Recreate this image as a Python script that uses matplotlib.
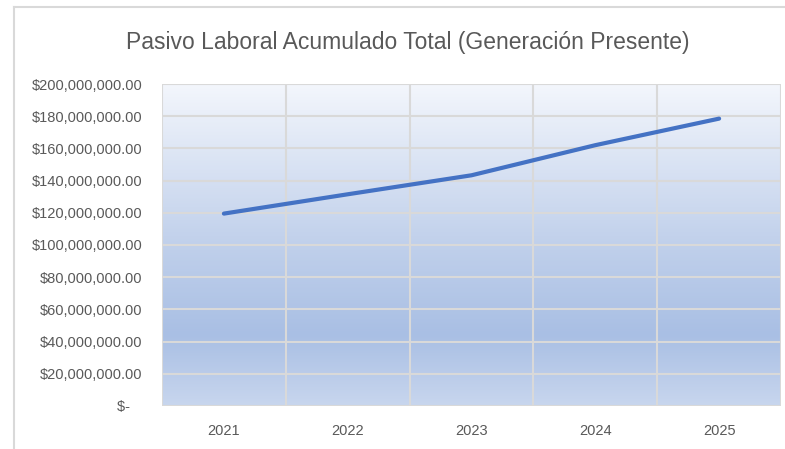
import matplotlib
matplotlib.use("Agg")
import matplotlib.pyplot as plt
import numpy as np
from matplotlib.colors import LinearSegmentedColormap
from matplotlib.ticker import FuncFormatter, MultipleLocator
import matplotlib.lines as mlines

plt.rcParams['font.family'] = ['Liberation Sans', 'DejaVu Sans']

years = ["2021", "2022", "2023", "2024", "2025"]
pasivo = [119.5e6, 131.5e6, 143.3e6, 162.0e6, 178.5e6]

title = "Pasivo Laboral Acumulado Total (Generación Presente)"

fig = plt.figure(figsize=(7.85, 4.49), dpi=100)
fig.patch.set_facecolor("white")

# thin chart frame along the top and left edges
fig.add_artist(mlines.Line2D([13.5 / 785, 1.0], [1 - 6.5 / 449, 1 - 6.5 / 449],
                             color="#d9d9d9", lw=1.5, transform=fig.transFigure))
fig.add_artist(mlines.Line2D([13.5 / 785, 13.5 / 785], [0.0, 1 - 6.5 / 449],
                             color="#d9d9d9", lw=1.5, transform=fig.transFigure))

ax = fig.add_axes([162 / 785, 1 - 406 / 449, (781 - 162) / 785, (406 - 84) / 449])

x = np.arange(1, len(years) + 1)
ax.set_xlim(0.5, len(years) + 0.5)
ax.set_ylim(0, 200e6)

# vertical gradient fill of the plot area
grad_cmap = LinearSegmentedColormap.from_list(
    "plotfill",
    [(0.0, "#c8d6ee"), (0.22, "#a9bfe4"), (0.5, "#c0d0eb"), (1.0, "#f3f6fc")])
grad = np.linspace(0, 1, 256).reshape(-1, 1)
ax.imshow(grad, cmap=grad_cmap, aspect="auto", origin="lower",
          extent=[0.5, len(years) + 0.5, 0, 200e6], zorder=0)

# grid: horizontal at each tick, vertical at category boundaries
for yv in np.arange(0, 200e6 + 1, 20e6):
    ax.axhline(yv, color="#d9d9d9", lw=1.5, zorder=1)
for xv in np.arange(0.5, len(years) + 1.0, 1.0):
    ax.axvline(xv, color="#d9d9d9", lw=1.5, zorder=1)

ax.plot(x, pasivo, color="#4472C4", lw=3.0, solid_capstyle="round",
        solid_joinstyle="round", zorder=3)

for s in ax.spines.values():
    s.set_visible(False)

ax.yaxis.set_major_locator(MultipleLocator(20e6))


def money(v, pos):
    if v == 0:
        return "$-   "
    return "${:,.2f}".format(v)


ax.yaxis.set_major_formatter(FuncFormatter(money))
ax.set_xticks(x)
ax.set_xticklabels(years)
ax.tick_params(axis="both", length=0, labelsize=10.5, colors="#595959")
ax.tick_params(axis="y", pad=14)
ax.tick_params(axis="x", pad=13)

fig.text(408 / 785, 1 - 43 / 449, title, ha="center", va="center",
         fontsize=16.5, color="#595959")

fig.savefig("out.png", dpi=100, facecolor="white")
